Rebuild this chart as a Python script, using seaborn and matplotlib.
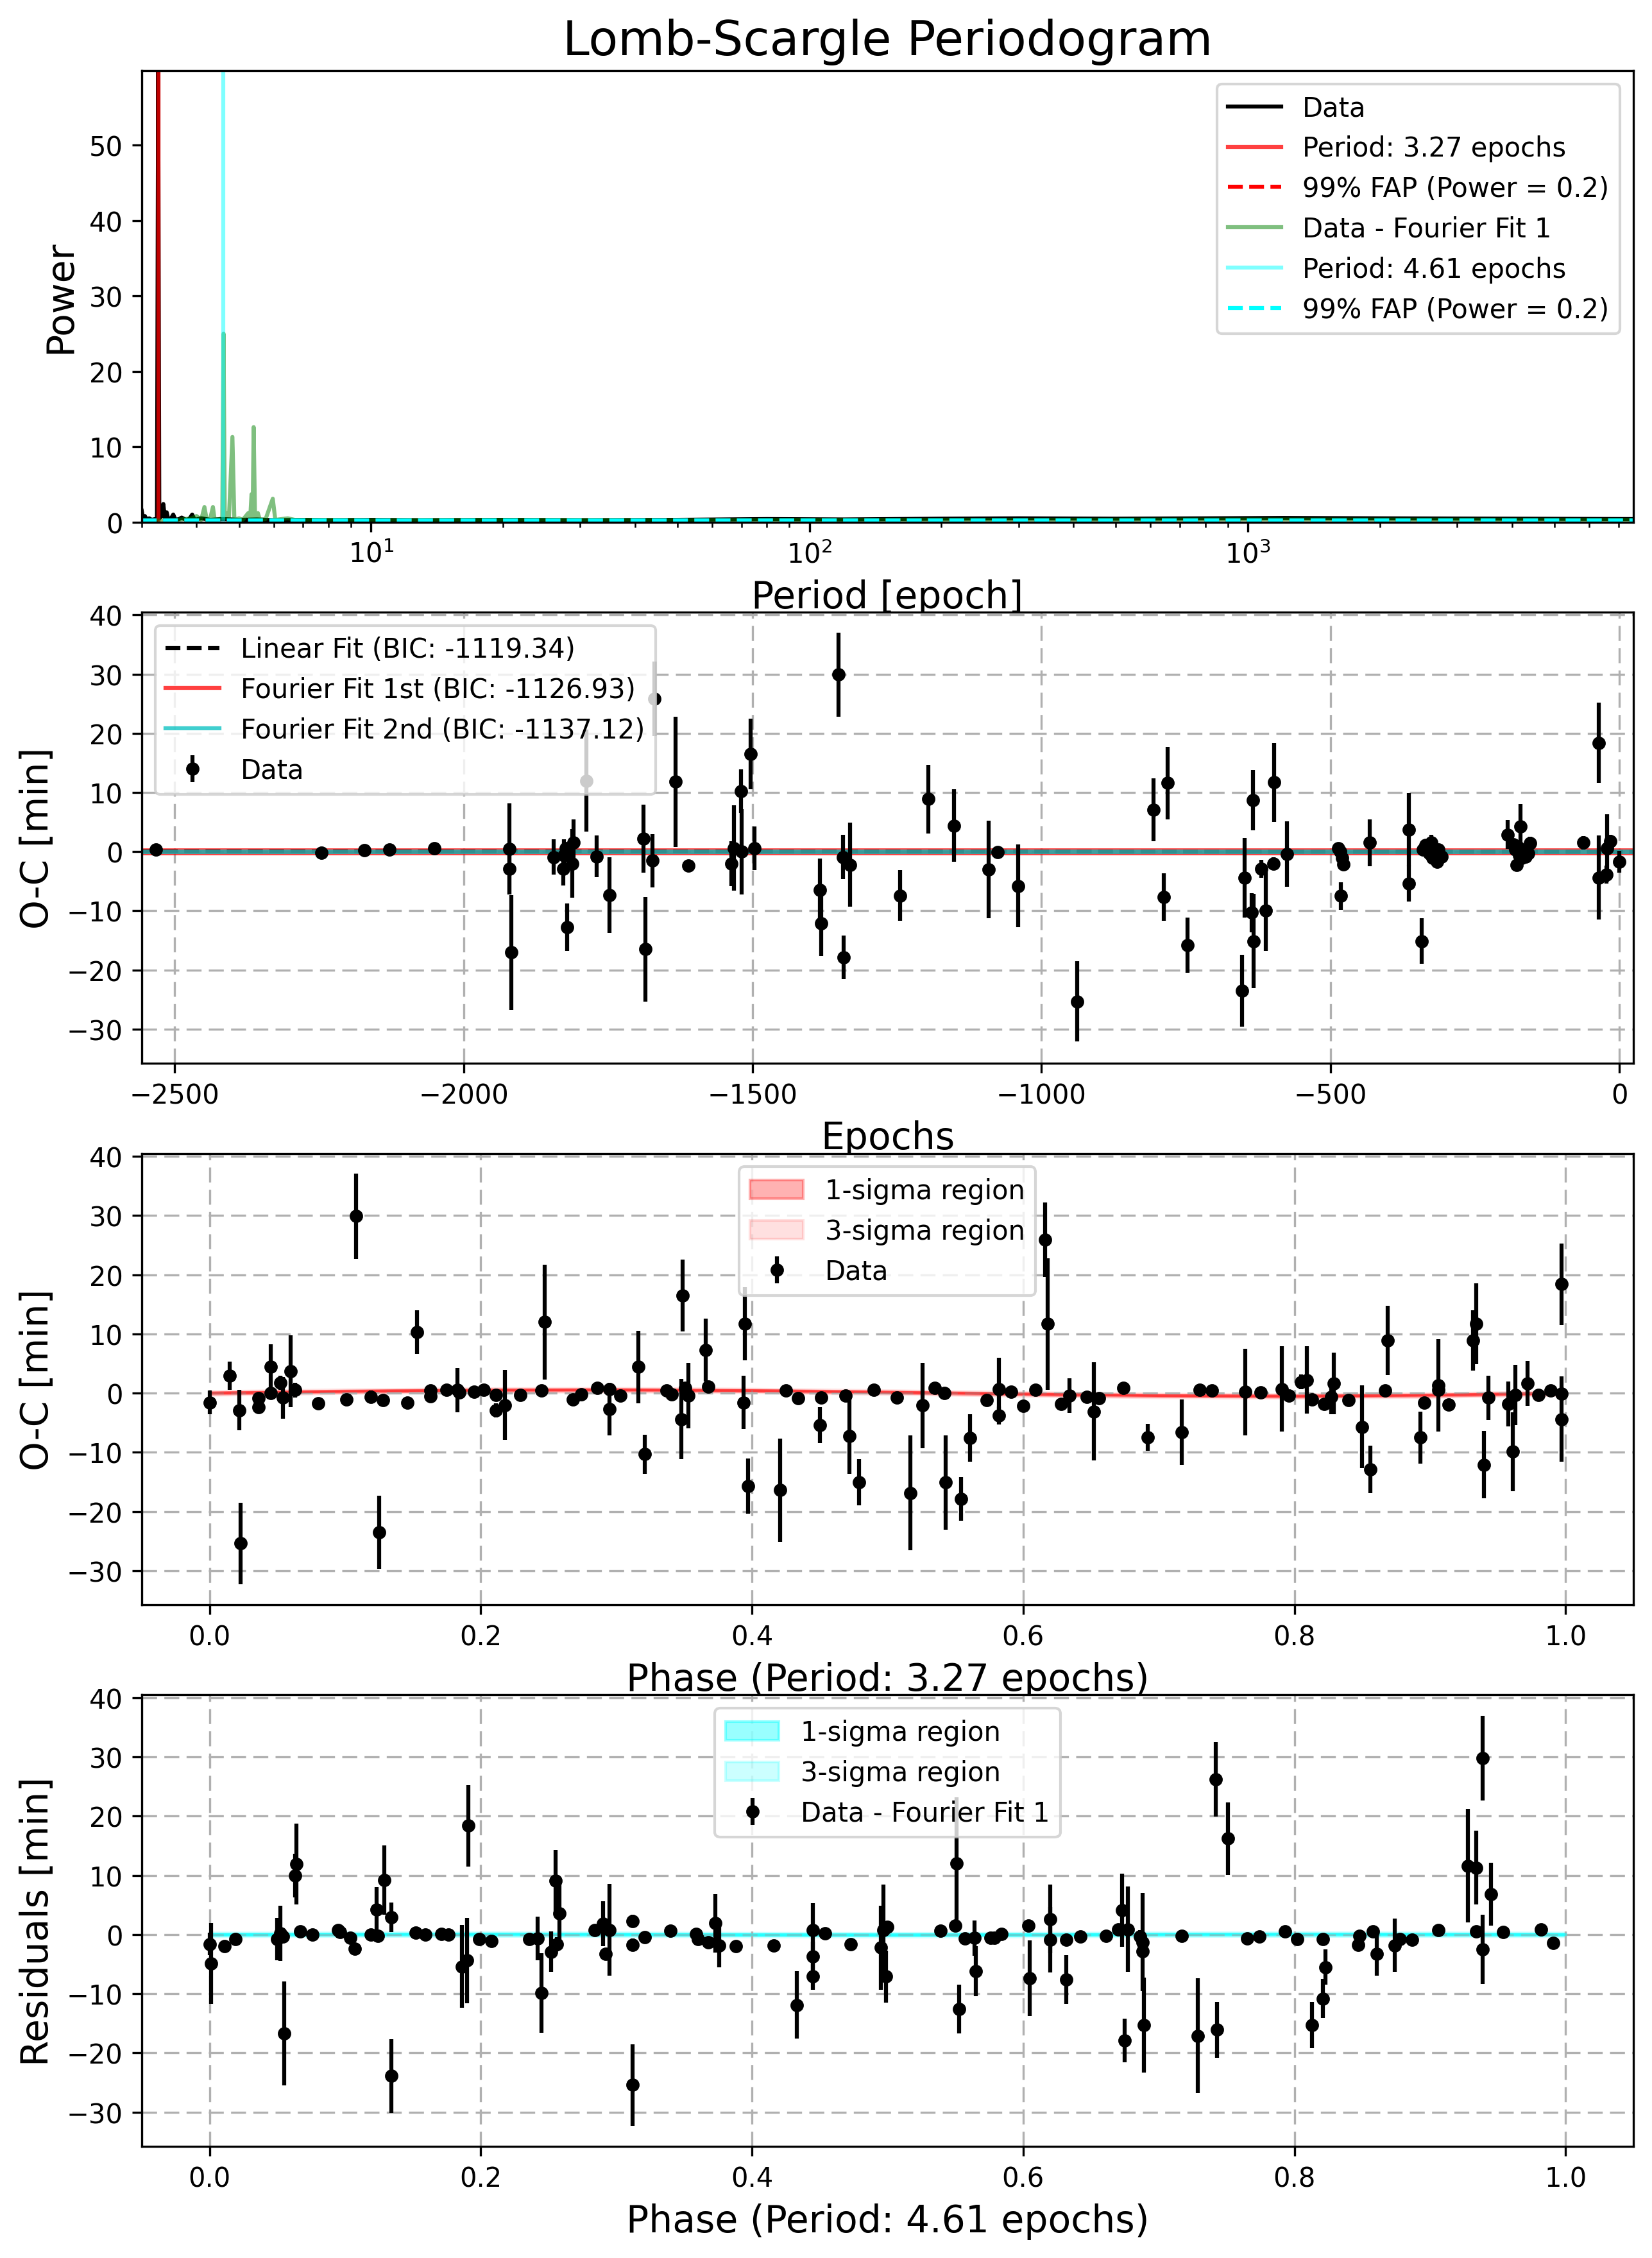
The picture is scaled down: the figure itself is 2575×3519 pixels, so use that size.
import matplotlib
matplotlib.use('Agg')
import matplotlib.pyplot as plt
from matplotlib.lines import Line2D
import seaborn as sns

# ---- Lomb-Scargle periodogram ----
ls_period = [3.00, 3.02, 3.05, 3.08, 3.12, 3.16, 3.22, 3.25, 3.27, 3.29, 3.33, 3.36, 3.39,
             3.42, 3.45, 3.50, 3.54, 3.58, 3.65, 3.70, 3.78, 3.85, 3.91, 3.96, 4.1, 4.3,
             4.6, 5.0, 5.5, 6.0, 7.0, 8.0, 10, 13, 20, 30, 50, 80, 120, 200, 300, 500,
             800, 1200, 2000, 4000, 7570]
ls_power = [1.5, 0.5, 0.8, 0.3, 0.5, 0.3, 0.4, 0.3, 59.9, 0.5, 0.8, 2.4, 0.4,
            1.3, 0.3, 0.5, 1.0, 0.3, 0.4, 0.6, 0.3, 0.4, 1.0, 0.3, 0.5, 0.3,
            0.4, 0.3, 0.35, 0.25, 0.3, 0.25, 0.3, 0.25, 0.3, 0.25, 0.3, 0.4, 0.35, 0.45, 0.5, 0.45,
            0.5, 0.55, 0.5, 0.45, 0.4]

res_period = [3.0, 3.5, 3.9, 4.0, 4.1, 4.17, 4.22, 4.30, 4.36, 4.40, 4.50, 4.58, 4.61, 4.64,
              4.70, 4.74, 4.83, 4.88, 5.0, 5.1, 5.25, 5.30, 5.34, 5.37, 5.40, 5.44, 5.52,
              5.58, 5.75, 5.97, 6.05, 6.46, 6.7, 8, 10, 20, 50, 100, 300, 1000, 7570]
res_power = [0.2, 0.2, 0.5, 0.8, 0.3, 2.0, 0.3, 0.5, 2.0, 0.3, 0.4, 0.5, 25.0, 0.5,
             1.2, 0.3, 11.3, 0.3, 0.5, 0.3, 1.2, 0.3, 3.7, 0.5, 12.6, 0.4, 1.2,
             0.3, 0.4, 3.1, 0.3, 0.5, 0.3, 0.3, 0.25, 0.3, 0.25, 0.3, 0.3, 0.35, 0.3]

best_period_1 = 3.27
best_period_2 = 4.61
fap_level = 0.2

# ---- O-C diagram ----
epoch = [-2532, -2246, -2172, -2128, -2051, -1921, -1921, -1918, -1844, -1828, -1826, -1823,
         -1821, -1812, -1810, -1788, -1770, -1748, -1689, -1686, -1673, -1670, -1633, -1611,
         -1537, -1532, -1520, -1519, -1503, -1497, -1384, -1381, -1351, -1344, -1343, -1331,
         -1245, -1196, -1152, -1092, -1076, -1040, -938, -806, -789, -782, -747, -653, -649,
         -636, -634, -633, -620, -612, -599, -598, -575, -487, -483, -480, -478, -482, -432,
         -364, -364, -342, -340, -336, -333, -329, -326, -323, -320, -316, -313, -308,
         -194, -184, -180, -178, -176, -173, -171, -169, -166, -162, -158, -155,
         -62, -36, -36, -21, -22, -16, 0]
oc = [0.3, -0.2, 0.2, 0.4, 0.6, 0.5, -2.9, -17.0, -0.9, -2.9, -0.6, 0.6,
      -12.8, -2.0, 1.5, 12.0, -0.8, -7.3, 2.2, -16.5, -1.5, 25.8, 11.8, -2.4,
      -2.0, 0.6, 10.2, 0.0, 16.5, 0.6, -6.5, -12.1, 29.9, -0.9, -17.9, -2.2,
      -7.4, 8.9, 4.4, -3.0, -0.1, -5.8, -25.3, 7.1, -7.7, 11.6, -15.8, -23.5, -4.4,
      -10.3, 8.7, -15.1, -2.9, -10.0, -2.0, 11.7, -0.4, 0.6, 0.0, -1.1, -2.1, -7.5, 1.5,
      3.7, -5.4, -15.1, 0.4, 1.1, 0.6, -0.3, 1.6, -1.1, 0.0, -1.7, 0.3, -0.8,
      2.9, 1.2, 0.3, -2.2, 0.8, -0.6, 4.3, -1.1, 0.0, -0.8, -0.3, 1.4,
      1.5, 18.4, -4.4, 0.6, -3.9, 1.8, -1.7]
oc_err = [0.6, 0.5, 0.5, 0.5, 0.6, 7.7, 4.3, 9.7, 3.0, 2.8, 2.7, 1.0,
          4.0, 5.8, 4.0, 8.6, 3.5, 6.4, 5.7, 8.8, 4.5, 6.3, 11.0, 0.8,
          3.8, 7.2, 3.7, 7.2, 6.0, 3.7, 5.3, 5.5, 7.1, 3.7, 3.7, 7.1,
          4.3, 5.8, 6.1, 8.2, 0.8, 7.0, 6.8, 5.3, 4.0, 6.1, 4.7, 6.1, 6.7,
          3.3, 5.1, 8.0, 1.5, 6.8, 1.0, 6.7, 5.5, 0.8, 0.6, 0.8, 0.8, 2.3, 4.0,
          6.2, 3.0, 3.8, 0.8, 1.0, 0.7, 0.9, 1.2, 0.8, 0.7, 1.0, 0.8, 0.9,
          2.4, 1.0, 0.8, 0.8, 1.0, 0.9, 3.8, 1.0, 0.8, 0.9, 0.8, 1.1,
          1.1, 6.8, 7.1, 5.7, 1.5, 1.0, 1.8]

fit_epoch = [-2557, 24]
linear_fit = [0.12, -0.02]
fourier1_fit = [0.05, 0.05]
fourier2_fit = [0.05, 0.05]
bic_linear, bic_f1, bic_f2 = -1119.34, -1126.93, -1137.12

# ---- folded on 3.27 epochs ----
phase1 = [0.000, 0.015, 0.022, 0.023, 0.036, 0.036, 0.045, 0.045, 0.052, 0.054, 0.060, 0.063,
          0.080, 0.101, 0.108, 0.119, 0.125, 0.128, 0.146, 0.153, 0.163, 0.163, 0.175, 0.183,
          0.184, 0.195, 0.202, 0.211, 0.211, 0.218, 0.229, 0.245, 0.247, 0.268, 0.274, 0.286,
          0.295, 0.295, 0.303, 0.316, 0.321, 0.337, 0.341, 0.348, 0.349, 0.351, 0.353, 0.366,
          0.368, 0.394, 0.395, 0.397, 0.421, 0.425, 0.434, 0.450, 0.451, 0.469, 0.472, 0.479,
          0.490, 0.507, 0.517, 0.526, 0.535, 0.542, 0.543, 0.554, 0.561, 0.573, 0.582, 0.582,
          0.591, 0.600, 0.609, 0.616, 0.618, 0.628, 0.634, 0.647, 0.652, 0.656, 0.674, 0.692,
          0.717, 0.730, 0.739, 0.764, 0.775, 0.791, 0.796, 0.805, 0.809, 0.813, 0.822, 0.827,
          0.829, 0.840, 0.850, 0.856, 0.867, 0.869, 0.893, 0.896, 0.906, 0.906, 0.914, 0.932,
          0.934, 0.940, 0.943, 0.958, 0.961, 0.963, 0.972, 0.980, 0.989, 0.997, 0.997, 0.997]
oc1 = [-1.6, 2.9, -2.9, -25.4, -0.9, -2.4, 4.4, 0.0, 1.7, -0.8, 3.7, 0.5,
       -1.7, -1.1, 29.9, -0.6, -23.5, -1.2, -1.6, 10.3, 0.4, -0.5, 0.5, 0.5,
       0.1, 0.2, 0.5, -0.3, -2.9, -2.0, -0.3, 0.4, 12.0, -1.1, -0.2, 0.9,
       0.7, -2.7, -0.4, 4.4, -10.3, 0.4, -0.2, -4.4, 16.5, 0.9, -0.4, 7.3,
       1.1, -1.6, 11.7, -15.7, -16.4, 0.4, -0.9, -5.4, -0.7, -0.4, -7.3, -15.1,
       0.5, -0.7, -16.9, -2.1, 0.9, 0.0, -15.1, -17.9, -7.6, -1.2, 0.7, -3.8,
       0.2, -2.2, 0.6, 25.9, 11.7, -1.8, -0.4, -0.6, -3.1, -0.9, 0.9, -7.5,
       -6.6, 0.6, 0.4, 0.2, 0.1, 0.7, -0.4, 1.9, 2.2, -1.1, -1.8, -0.6,
       1.6, -1.2, -5.7, -12.9, 0.4, 8.9, -7.5, -1.6, 1.3, 0.5, -1.9, 8.9,
       11.7, -12.1, -0.8, -1.8, -9.9, -0.3, 1.6, -0.3, 0.4, 18.4, -0.1, -4.4]
oc1_err = [2.0, 2.4, 3.4, 6.9, 1.0, 1.0, 3.8, 1.0, 1.2, 3.5, 6.1, 1.2,
           0.8, 0.8, 7.2, 1.0, 6.2, 0.8, 0.8, 3.7, 1.0, 1.0, 0.8, 3.7,
           1.0, 0.7, 0.8, 1.0, 1.2, 5.9, 1.0, 0.8, 9.7, 0.8, 0.8, 0.8,
           0.8, 4.4, 0.8, 6.1, 3.3, 0.8, 0.8, 6.8, 6.1, 1.0, 5.5, 5.3,
           1.0, 4.5, 6.2, 4.7, 8.7, 0.8, 0.8, 3.0, 0.8, 1.0, 6.4, 3.9,
           0.8, 0.8, 9.7, 7.2, 0.8, 0.8, 8.0, 3.7, 4.0, 0.8, 5.3, 1.5,
           0.8, 0.8, 0.8, 6.3, 11.1, 0.8, 2.9, 0.8, 8.3, 0.8, 0.8, 2.3,
           5.5, 0.8, 0.8, 7.3, 0.8, 7.2, 0.8, 1.2, 5.7, 0.8, 0.8, 3.0,
           5.2, 0.8, 7.0, 4.0, 0.8, 5.9, 4.4, 0.8, 7.8, 1.0, 0.8, 5.1,
           6.8, 5.7, 3.7, 3.8, 6.7, 5.1, 3.8, 0.8, 0.8, 6.9, 1.2, 7.2]

# ---- residuals folded on 4.61 epochs ----
phase2 = [0.000, 0.001, 0.011, 0.019, 0.050, 0.052, 0.054, 0.055, 0.063, 0.064, 0.067, 0.076,
          0.095, 0.096, 0.104, 0.107, 0.119, 0.123, 0.124, 0.129, 0.134, 0.134, 0.152, 0.159,
          0.171, 0.176, 0.186, 0.190, 0.191, 0.199, 0.208, 0.236, 0.242, 0.245, 0.252, 0.255,
          0.256, 0.258, 0.284, 0.290, 0.292, 0.295, 0.312, 0.312, 0.312, 0.321, 0.340, 0.359,
          0.360, 0.368, 0.373, 0.376, 0.388, 0.416, 0.433, 0.445, 0.445, 0.445, 0.454, 0.473,
          0.495, 0.497, 0.499, 0.500, 0.539, 0.550, 0.551, 0.553, 0.557, 0.564, 0.565, 0.576,
          0.579, 0.584, 0.604, 0.605, 0.620, 0.620, 0.632, 0.632, 0.642, 0.661, 0.670, 0.673,
          0.675, 0.677, 0.686, 0.688, 0.688, 0.689, 0.717, 0.729, 0.742, 0.743, 0.751, 0.765,
          0.774, 0.793, 0.802, 0.813, 0.821, 0.821, 0.823, 0.847, 0.848, 0.858, 0.861, 0.874,
          0.878, 0.887, 0.906, 0.928, 0.934, 0.934, 0.939, 0.939, 0.945, 0.954, 0.982, 0.991]
resid2 = [-1.6, -4.9, -2.0, -0.8, -0.8, 0.2, -0.3, -16.7, 10.0, 11.9, 0.5, 0.0,
          0.8, 0.4, -0.6, -2.4, 0.0, 4.2, -0.2, 9.2, 2.9, -23.9, 0.3, 0.0,
          0.1, 0.0, -5.4, -4.4, 18.4, -0.8, -1.1, -0.8, -0.7, -9.9, -2.9, 9.1,
          -1.6, 3.6, 0.8, 1.8, -3.3, 0.8, -25.4, 2.3, -1.7, -0.4, 0.6, 0.1,
          -0.8, -1.3, 1.9, -1.8, -2.0, -1.8, -11.9, 0.8, -3.7, -7.1, 0.2, -1.6,
          -2.2, 0.8, -7.1, 1.3, 0.6, 1.5, 12.0, -12.6, -0.7, -0.6, -6.2, -0.6,
          -0.6, 0.1, 1.5, -7.4, -0.9, 2.6, -0.9, -7.6, -0.3, -0.2, 0.9, 4.1,
          -17.9, 0.9, -0.3, -1.3, -2.8, -15.3, -0.2, -17.1, 26.2, -16.1, 16.2, -0.7,
          -0.3, 0.5, -0.8, -15.3, -0.8, -10.8, -5.5, -1.7, -0.2, 0.5, -3.3, -1.8,
          -0.8, -0.9, 0.8, 11.6, 11.3, 0.5, 29.8, -2.5, 6.8, 0.4, 0.9, -1.4]
resid2_err = [1.9, 6.8, 1.0, 0.8, 3.6, 4.7, 1.0, 8.8, 3.7, 6.8, 0.8, 0.8,
              0.8, 0.8, 0.8, 0.8, 0.8, 3.8, 0.8, 5.9, 2.5, 6.2, 0.8, 0.8,
              0.8, 0.8, 7.0, 7.2, 6.9, 0.8, 0.8, 0.8, 3.7, 6.7, 3.4, 5.2,
              1.2, 5.5, 0.8, 3.8, 1.0, 7.8, 6.9, 1.1, 1.0, 0.8, 0.8, 0.8,
              0.8, 0.8, 4.9, 3.7, 0.8, 0.8, 5.7, 4.5, 2.5, 2.2, 0.8, 0.8,
              7.1, 7.6, 4.4, 0.8, 0.8, 0.8, 11.2, 4.1, 0.8, 3.0, 4.2, 0.8,
              0.8, 0.8, 0.8, 6.4, 5.5, 5.8, 0.8, 4.1, 0.8, 0.8, 0.8, 6.2,
              3.7, 7.2, 1.0, 8.3, 1.0, 8.0, 0.8, 9.7, 6.3, 4.7, 6.1, 1.0,
              0.8, 0.8, 0.8, 3.9, 0.8, 3.3, 3.0, 1.0, 0.8, 0.8, 3.6, 4.5,
              0.8, 0.8, 0.8, 9.6, 6.2, 0.8, 7.2, 5.9, 5.3, 0.8, 0.8, 0.8]

# folded model curves
model_phase = [0.0, 0.1, 0.2, 0.3, 0.4, 0.5, 0.6, 0.7, 0.8, 0.9, 1.0]
model1 = [0.0, 0.3, 0.5, 0.55, 0.42, 0.15, -0.15, -0.42, -0.52, -0.35, 0.0]
model2 = [0.0, 0.03, 0.05, 0.03, -0.03, -0.05, -0.03, 0.03, 0.05, 0.03, 0.0]
sigma1_width = 0.12
sigma3_width = 0.32

fig, axes = plt.subplots(4, 1, figsize=(2575 / 300, 3520 / 300), dpi=300)
fig.subplots_adjust(left=0.0858, right=0.9887, top=0.9685, bottom=0.0494, hspace=0.199)

label_fs = 14
grid_style = (0, (7, 3.4))

# --- panel 1: periodogram
ax = axes[0]
ax.set_xscale('log')
sns.lineplot(x=ls_period, y=ls_power, ax=ax, color='black', lw=1.5, label='Data',
             estimator=None, sort=False)
ax.axvline(best_period_1, color='r', alpha=0.75, lw=1.5, label=f'Period: {best_period_1:.2f} epochs')
ax.axhline(fap_level, color='r', ls='--', lw=1.5, label=f'99% FAP (Power = {fap_level:.1f})')
sns.lineplot(x=res_period, y=res_power, ax=ax, color='g', alpha=0.5, lw=1.5,
             label='Data - Fourier Fit 1', estimator=None, sort=False)
ax.axvline(best_period_2, color='cyan', alpha=0.5, lw=1.5, label=f'Period: {best_period_2:.2f} epochs')
ax.axhline(fap_level, color='cyan', ls='--', lw=1.5, label=f'99% FAP (Power = {fap_level:.1f})')
ax.set_xlim(3.0, 7570)
ax.set_ylim(0, max(ls_power))
ax.set_title('Lomb-Scargle Periodogram', fontsize=18)
ax.set_xlabel('Period [epoch]', fontsize=label_fs)
ax.set_ylabel('Power', fontsize=label_fs)
ax.legend(loc='upper right', fontsize=10)

# --- panel 2: O-C vs epoch
ax = axes[1]
sns.lineplot(x=fit_epoch, y=linear_fit, ax=ax, color='k', ls='--', lw=1.5, estimator=None, sort=False)
sns.lineplot(x=fit_epoch, y=fourier1_fit, ax=ax, color='r', alpha=0.75, lw=2.6, estimator=None, sort=False)
sns.lineplot(x=fit_epoch, y=fourier2_fit, ax=ax, color='c', alpha=0.75, lw=1.7, estimator=None, sort=False)
eb = ax.errorbar(epoch, oc, yerr=oc_err, fmt='o', color='k', ms=4, elinewidth=1.5,
                 capsize=0, label='Data')
handles = [Line2D([], [], color='k', ls='--', lw=1.5),
           Line2D([], [], color='r', alpha=0.75, lw=1.5),
           Line2D([], [], color='c', alpha=0.75, lw=1.5),
           eb]
labels = [f'Linear Fit (BIC: {bic_linear:.2f})',
          f'Fourier Fit 1st (BIC: {bic_f1:.2f})',
          f'Fourier Fit 2nd (BIC: {bic_f2:.2f})',
          'Data']
ax.legend(handles, labels, loc='upper left', fontsize=10)
ax.set_xlim(-2557, 24)
ax.set_ylim(-35.8, 40.5)
ax.grid(True, linestyle=grid_style, lw=0.8)
ax.set_xlabel('Epochs', fontsize=label_fs)
ax.set_ylabel('O-C [min]', fontsize=label_fs)

# --- panel 3: folded on first period
ax = axes[2]
up1 = [m + sigma1_width for m in model1]
lo1 = [m - sigma1_width for m in model1]
up3 = [m + sigma3_width for m in model1]
lo3 = [m - sigma3_width for m in model1]
ax.fill_between(model_phase, lo1, up1, color='r', alpha=0.3, label='1-sigma region')
ax.fill_between(model_phase, lo3, up3, color='r', alpha=0.12, label='3-sigma region')
sns.lineplot(x=model_phase, y=model1, ax=ax, color='r', alpha=0.5, lw=1.0, estimator=None, sort=False)
ax.errorbar(phase1, oc1, yerr=oc1_err, fmt='o', color='k', ms=4, elinewidth=1.5,
            capsize=0, label='Data')
ax.legend(loc='upper center', fontsize=10)
ax.set_xlim(-0.05, 1.05)
ax.set_ylim(-35.8, 40.5)
ax.grid(True, linestyle=grid_style, lw=0.8)
ax.set_xlabel(f'Phase (Period: {best_period_1:.2f} epochs)', fontsize=label_fs)
ax.set_ylabel('O-C [min]', fontsize=label_fs)

# --- panel 4: residuals folded on second period
ax = axes[3]
up1 = [m + sigma1_width for m in model2]
lo1 = [m - sigma1_width for m in model2]
up3 = [m + sigma3_width for m in model2]
lo3 = [m - sigma3_width for m in model2]
ax.fill_between(model_phase, lo1, up1, color='cyan', alpha=0.4, label='1-sigma region')
ax.fill_between(model_phase, lo3, up3, color='cyan', alpha=0.2, label='3-sigma region')
sns.lineplot(x=model_phase, y=model2, ax=ax, color='cyan', alpha=0.5, lw=1.0, estimator=None, sort=False)
ax.errorbar(phase2, resid2, yerr=resid2_err, fmt='o', color='k', ms=4, elinewidth=1.5,
            capsize=0, label='Data - Fourier Fit 1')
ax.legend(loc='upper center', fontsize=10)
ax.set_xlim(-0.05, 1.05)
ax.set_ylim(-35.8, 40.5)
ax.grid(True, linestyle=grid_style, lw=0.8)
ax.set_xlabel(f'Phase (Period: {best_period_2:.2f} epochs)', fontsize=label_fs)
ax.set_ylabel('Residuals [min]', fontsize=label_fs)

fig.savefig('out.png', dpi=300)
